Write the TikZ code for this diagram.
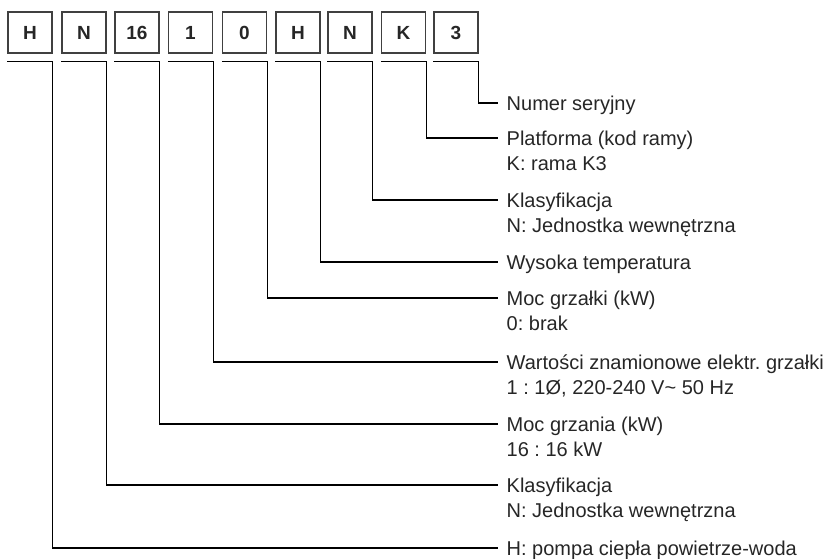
\documentclass[tikz,border=0pt]{standalone}
\usepackage{fontspec}
\setmainfont{Liberation Sans}
\frenchspacing
\begin{document}
\begin{tikzpicture}[x=1pt,y=-1pt,
  codebox/.style={draw=black!75,line width=1.2pt,minimum width=44pt,minimum height=41pt,inner sep=0pt,
    font=\bfseries\fontsize{19}{22}\selectfont,text=black!85},
  lbl/.style={anchor=west,inner xsep=8.5pt,inner ysep=0pt,text height=14.3pt,text depth=0pt,
    font=\fontsize{20}{24}\selectfont,text=black!85},
  lead/.style={draw=black,line width=1.2pt}]
\frenchspacing
\useasboundingbox (0,0) rectangle (828,558);
% boxes
\foreach \n/\x/\t in {1/30/H,2/84/N,3/137/16,4/190.5/1,5/244.5/0,6/298/H,7/350/N,8/403.5/K,9/456/3}{
  \node[codebox] (b\n) at (\x,32.5) {\t};
}
% labels (first lines)
\node[lbl] (t9) at (498,103) {Numer seryjny};
\node[lbl] (t8) at (498,138) {Platforma (kod ramy)};
\node[lbl] (t7) at (498,200) {Klasyfikacja};
\node[lbl] (t6) at (498,262) {Wysoka temperatura};
\node[lbl] (t5) at (498,298) {Moc grzałki (kW)};
\node[lbl] (t4) at (498,362) {Wartości znamionowe elektr. grzałki};
\node[lbl] (t3) at (498,424) {Moc grzania (kW)};
\node[lbl] (t2) at (498,485) {Klasyfikacja};
\node[lbl] (t1) at (498,548) {H: pompa ciepła powietrze-woda};
% second lines
\node[lbl] (u8) at ([yshift=-25pt]t8.west) {K: rama K3};
\node[lbl] (u7) at ([yshift=-25pt]t7.west) {N: Jednostka wewnętrzna};
\node[lbl] (u5) at ([yshift=-25pt]t5.west) {0: brak};
\node[lbl] (u4) at ([yshift=-25pt]t4.west) {1 : 1Ø, 220-240 V\textasciitilde{} 50 Hz};
\node[lbl] (u3) at ([yshift=-25pt]t3.west) {16 : 16 kW};
\node[lbl] (u2) at ([yshift=-25pt]t2.west) {N: Jednostka wewnętrzna};
% leaders
\foreach \n in {1,...,9}{
  \draw[lead] ([yshift=-8pt]b\n.south west) -- ([yshift=-8pt]b\n.south east) |- (t\n.west);
}
\end{tikzpicture}
\end{document}
